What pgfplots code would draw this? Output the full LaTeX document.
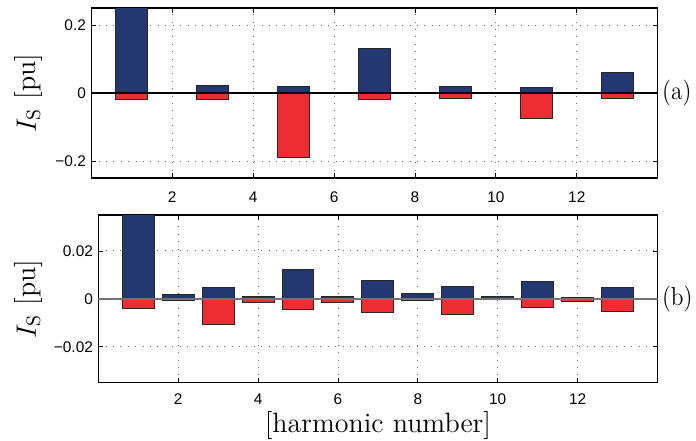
\RequirePackage{fix-cm}
\documentclass[border=0pt]{standalone}
\usepackage{fontspec}
\newfontfamily\ticksf{Liberation Sans}
\usepackage{pgfplots}
\pgfplotsset{compat=1.18}
\definecolor{navy}{RGB}{35,56,112}
\definecolor{bred}{RGB}{238,45,50}
\tikzset{sidelab/.style={anchor=west, inner sep=0pt, font=\fontsize{13}{16}\selectfont, xscale=0.9}}
\pgfplotsset{
  harm/.style={
    scale only axis,
    anchor=south west,
    xmin=0, xmax=14,
    xtick={2,4,6,8,10,12},
    xticklabels={2,4,6,8,10,12},
    scaled y ticks=false,
    tick align=inside,
    major tick length=2.5pt,
    tick style={black, line width=0.4pt},
    axis line style={black, line width=0.6pt},
    xmajorgrids, ymajorgrids,
    major grid style={black!60, line width=0.45pt, dash pattern=on 0.5pt off 3.2pt},
    tick label style={font=\ticksf\fontsize{7.7}{9}\selectfont, inner sep=0pt},
    yticklabel style={anchor=east, xshift=-2.5pt},
    xticklabel style={anchor=north},
    ylabel={$I_\mathrm{S}$ [pu]},
    every axis y label/.style={at={(rel axis cs:0,0.5)}, rotate=90, anchor=center,
      font=\fontsize{14}{17}\selectfont, inner sep=0pt},
    clip mode=individual,
  },
  pbar/.style={ybar, bar width=0.8, bar shift=0pt, draw=black!85, line width=0.5pt},
}
\begin{document}
\begin{tikzpicture}
\useasboundingbox (0pt,0pt) rectangle (348pt,220pt);
% ---------------- (a)
\begin{axis}[harm,
  at={(45.65pt,131pt)}, width=283.2pt, height=85pt,
  ymin=-0.25, ymax=0.25,
  ytick={-0.2,0,0.2}, yticklabels={−0.2,0,0.2},
  xticklabel style={yshift=-6.6pt},
  every axis y label/.append style={yshift=31.15pt},
]
\addplot[pbar, fill=navy] coordinates {
 (1,0.30) (2,0.0015) (3,0.022) (4,0.0015) (5,0.018) (6,0.0015) (7,0.132)
 (8,0.0015) (9,0.019) (10,0.0015) (11,0.017) (12,0.0015) (13,0.061)};
\addplot[pbar, fill=bred] coordinates {
 (1,-0.020) (2,-0.001) (3,-0.020) (4,-0.001) (5,-0.191) (6,-0.001) (7,-0.020)
 (8,-0.001) (9,-0.016) (10,-0.001) (11,-0.076) (12,-0.001) (13,-0.017)};
\addplot[black, line width=0.6pt, forget plot] coordinates {(0,0) (14,0)};
\node[sidelab, xshift=2.3pt] at (rel axis cs:1,0.5) {(a)};
\end{axis}
% ---------------- (b)
\begin{axis}[harm,
  at={(49.15pt,28.65pt)}, width=279.6pt, height=83.85pt,
  ymin=-0.035, ymax=0.035,
  ytick={-0.02,0,0.02}, yticklabels={−0.02,0,0.02},
  xticklabel style={yshift=-5.5pt},
  every axis y label/.append style={yshift=34.65pt},
  xlabel={[harmonic number]},
  every axis x label/.style={at={(rel axis cs:0.5,0)}, anchor=north, yshift=-14.4pt,
      font=\fontsize{14}{17}\selectfont, inner sep=0pt},
]
\addplot[pbar, fill=navy] coordinates {
 (1,0.050) (2,0.0018) (3,0.0046) (4,0.0010) (5,0.0124) (6,0.0008) (7,0.0077)
 (8,0.0022) (9,0.0050) (10,0.0011) (11,0.0072) (12,0.0007) (13,0.0046)};
\addplot[pbar, fill=bred] coordinates {
 (1,-0.0039) (2,-0.0008) (3,-0.0107) (4,-0.0015) (5,-0.0045) (6,-0.0014) (7,-0.0057)
 (8,-0.0006) (9,-0.0066) (10,-0.0003) (11,-0.0038) (12,-0.0010) (13,-0.0052)};
\addplot[black!55, line width=0.8pt, forget plot] coordinates {(0,0) (14,0)};
\node[sidelab, xshift=2.3pt] at (rel axis cs:1,0.5) {(b)};
\end{axis}
\end{tikzpicture}
\end{document}
